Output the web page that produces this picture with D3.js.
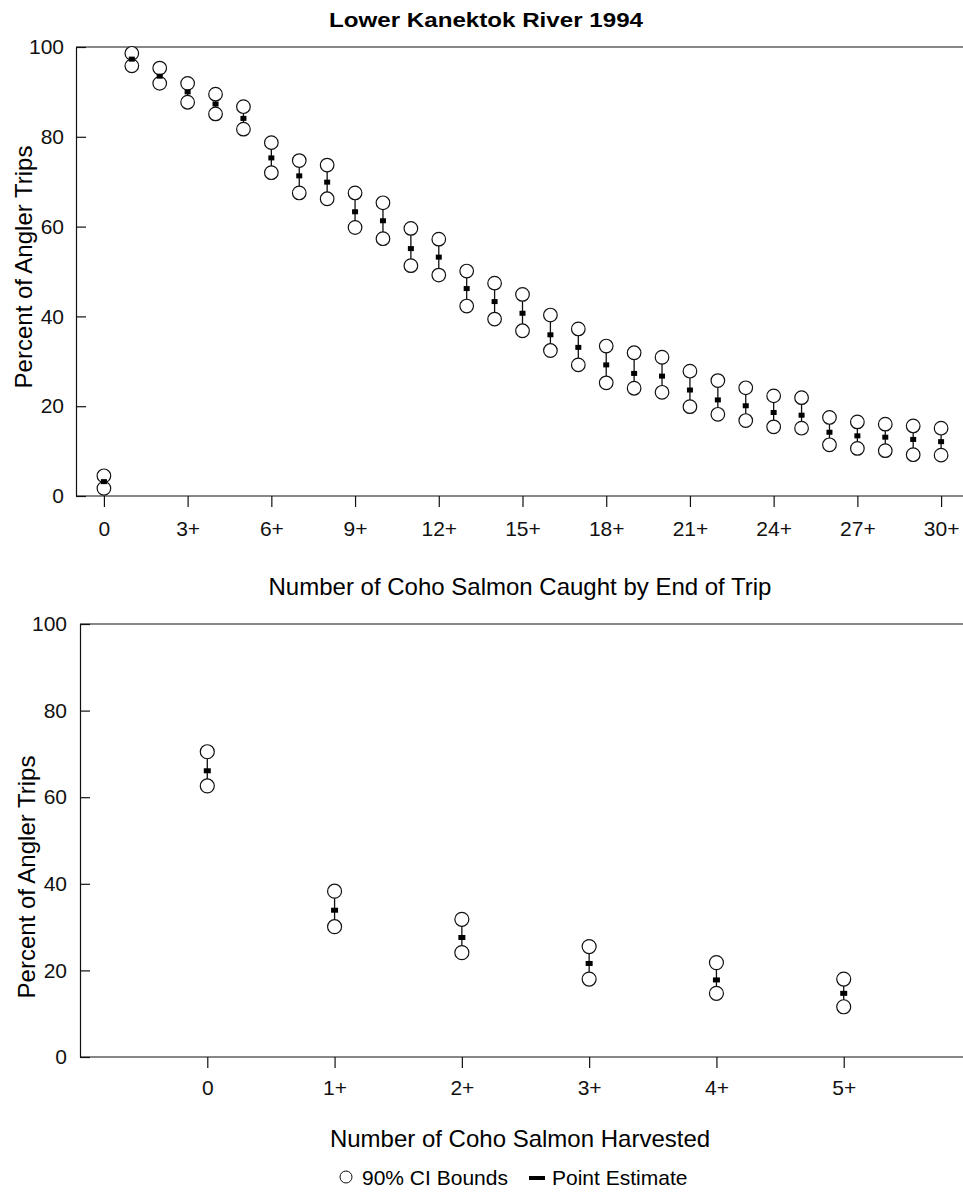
<!DOCTYPE html>
<html>
<head>
<meta charset="utf-8">
<title>Lower Kanektok River 1994</title>
<style>
  body { margin: 0; background: #fff; }
  svg { display: block; font-family: "Liberation Sans", Arial, Helvetica, sans-serif; }
  .axis path, .axis line { stroke: #111; stroke-width: 1.2; }
  .axis text { font-size: 21px; fill: #111; }
</style>
<script src="https://d3js.org/d3.v7.min.js"></script>
</head>
<body>
<svg></svg>
<script>
// coho caught by end of trip (0, 1+, 2+ ... 30+)
const caught = d3.range(0, 31);
const caughtPoint = [3.2, 97.3, 93.5, 90.0, 87.3, 84.1, 75.3, 71.3, 69.9, 63.3, 61.3,
  55.1, 53.2, 46.2, 43.3, 40.7, 35.9, 33.1, 29.2, 27.3, 26.7,
  23.6, 21.4, 20.1, 18.6, 18.0, 14.2, 13.4, 13.1, 12.6, 12.1];
const caughtUpper = [4.5, 98.6, 95.3, 91.9, 89.5, 86.7, 78.7, 74.7, 73.7, 67.5, 65.3,
  59.6, 57.2, 50.1, 47.4, 44.9, 40.3, 37.2, 33.4, 31.9, 30.9,
  27.8, 25.7, 24.1, 22.3, 21.9, 17.5, 16.5, 16.0, 15.6, 15.1];
const caughtLower = [1.7, 95.8, 91.9, 87.7, 85.1, 81.7, 72.0, 67.5, 66.2, 59.8, 57.3,
  51.3, 49.2, 42.3, 39.4, 36.8, 32.4, 29.2, 25.2, 24.0, 23.1,
  19.9, 18.2, 16.8, 15.4, 15.1, 11.4, 10.6, 10.1, 9.2, 9.1];
const caughtTicks = [0, 3, 6, 9, 12, 15, 18, 21, 24, 27, 30];

// coho harvested (0, 1+ ... 5+)
const harvested = [0, 1, 2, 3, 4, 5];
const harvPoint = [66.1, 33.9, 27.6, 21.6, 17.8, 14.7];
const harvUpper = [70.5, 38.3, 31.8, 25.5, 21.8, 18.0];
const harvLower = [62.6, 30.1, 24.1, 18.0, 14.7, 11.6];

const yTicks = [0, 20, 40, 60, 80, 100];
const plusFmt = d => d === 0 ? "0" : d + "+";

const width = 963, height = 1192;
const svg = d3.select("svg").attr("width", width).attr("height", height);

svg.append("text")
  .attr("x", 486).attr("y", 27)
  .attr("text-anchor", "middle")
  .attr("textLength", 314).attr("lengthAdjust", "spacingAndGlyphs")
  .style("font-size", "20px").style("font-weight", "bold")
  .text("Lower Kanektok River 1994");

function panel(opt) {
  const x = d3.scaleLinear().domain(opt.xDomain).range([opt.left, opt.right]);
  const y = d3.scaleLinear().domain([0, 100]).range([opt.bottom, opt.top]);
  const g = svg.append("g");

  // frame: top line
  g.append("line")
    .attr("x1", opt.left).attr("x2", width)
    .attr("y1", opt.top).attr("y2", opt.top)
    .attr("stroke", "#111").attr("stroke-width", 1.2);

  g.append("g").attr("class", "axis")
    .attr("transform", `translate(0,${opt.bottom})`)
    .call(d3.axisBottom(x).tickValues(opt.ticks).tickFormat(plusFmt)
      .tickSize(11).tickSizeOuter(0).tickPadding(opt.xPad))
    .select(".domain").attr("d", `M${opt.left},0H${width}`);

  g.append("g").attr("class", "axis")
    .attr("transform", `translate(${opt.left},0)`)
    .call(d3.axisLeft(y).tickValues(yTicks).tickSize(-10).tickSizeOuter(0).tickPadding(opt.yPad));

  g.append("text")
    .attr("transform", `translate(${opt.yLabelX},${opt.yLabelY}) rotate(-90)`)
    .attr("text-anchor", "middle")
    .style("font-size", "24px")
    .text("Percent of Angler Trips");

  g.append("text")
    .attr("x", 520).attr("y", opt.xLabelY)
    .attr("text-anchor", "middle")
    .style("font-size", "24px")
    .text(opt.xLabel);

  const rows = opt.cats.map((c, i) => ({ c, p: opt.point[i], u: opt.upper[i], l: opt.lower[i] }));
  const m = g.append("g");

  m.selectAll(".ci").data(rows).join("line")
    .attr("x1", d => x(d.c)).attr("x2", d => x(d.c))
    .attr("y1", d => y(d.u)).attr("y2", d => y(d.l))
    .attr("stroke", "#111").attr("stroke-width", 1.3);

  m.selectAll(".up").data(rows).join("circle")
    .attr("cx", d => x(d.c)).attr("cy", d => y(d.u)).attr("r", opt.r)
    .attr("fill", "#fff").attr("stroke", "#111").attr("stroke-width", 1.2);
  m.selectAll(".lo").data(rows).join("circle")
    .attr("cx", d => x(d.c)).attr("cy", d => y(d.l)).attr("r", opt.r)
    .attr("fill", "#fff").attr("stroke", "#111").attr("stroke-width", 1.2);

  m.selectAll("rect").data(rows).join("rect")
    .attr("x", d => x(d.c) - opt.pw / 2).attr("y", d => y(d.p) - opt.ph / 2)
    .attr("width", opt.pw).attr("height", opt.ph)
    .attr("fill", "#000");
}

panel({
  cats: caught, point: caughtPoint, upper: caughtUpper, lower: caughtLower,
  ticks: caughtTicks, xDomain: [-1, 31], left: 76, right: 969,
  top: 47, bottom: 496, xPad: 14, yPad: 12, r: 6.8, pw: 6, ph: 5,
  yLabelX: 32, yLabelY: 267, xLabelY: 595,
  xLabel: "Number of Coho Salmon Caught by End of Trip"
});

panel({
  cats: harvested, point: harvPoint, upper: harvUpper, lower: harvLower,
  ticks: harvested, xDomain: [-1, 6], left: 80, right: 971,
  top: 624, bottom: 1057, xPad: 12, yPad: 13, r: 7, pw: 7, ph: 5,
  yLabelX: 35, yLabelY: 877, xLabelY: 1147,
  xLabel: "Number of Coho Salmon Harvested"
});

// legend
const lg = svg.append("g");
lg.append("circle").attr("cx", 346).attr("cy", 1177).attr("r", 6)
  .attr("fill", "#fff").attr("stroke", "#111").attr("stroke-width", 1);
lg.append("text").attr("x", 362).attr("y", 1185).style("font-size", "21px").text("90% CI Bounds");
lg.append("rect").attr("x", 529).attr("y", 1176).attr("width", 16).attr("height", 4).attr("fill", "#000");
lg.append("text").attr("x", 552).attr("y", 1185).style("font-size", "21px").text("Point Estimate");
</script>
</body>
</html>
